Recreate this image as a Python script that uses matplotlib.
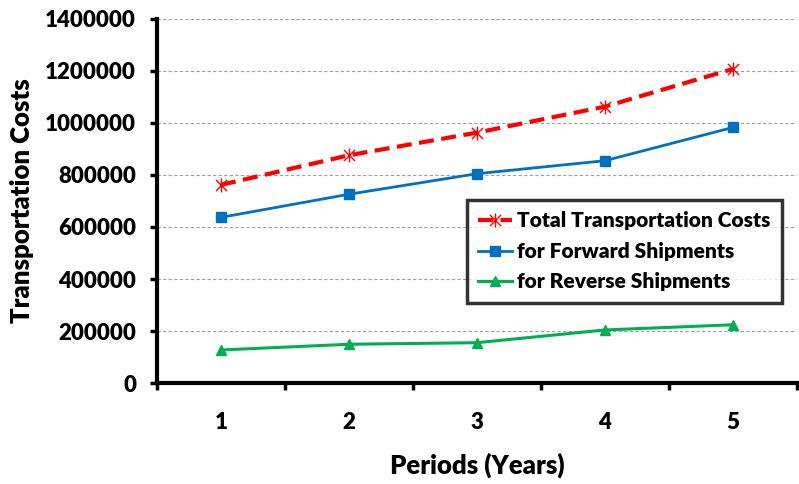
import matplotlib
matplotlib.use("Agg")
import matplotlib.pyplot as plt
from matplotlib.ticker import FixedLocator
from matplotlib.path import Path

periods = [1, 2, 3, 4, 5]
period_labels = ["1", "2", "3", "4", "5"]
total_costs = [762000, 876000, 963000, 1063000, 1208000]
forward_costs = [637000, 726000, 805000, 855000, 983000]
reverse_costs = [127000, 149000, 155000, 204000, 224000]
y_ticks = [0, 200000, 400000, 600000, 800000, 1000000, 1200000, 1400000]

plt.rcParams['font.family'] = ['Lato', 'DejaVu Sans']
plt.rcParams['font.weight'] = 'heavy'

# Excel-style star marker: X plus vertical stroke
star = Path([(-1, -1), (1, 1), (-1, 1), (1, -1), (0, -1.25), (0, 1.25)],
            [Path.MOVETO, Path.LINETO, Path.MOVETO, Path.LINETO, Path.MOVETO, Path.LINETO])

fig = plt.figure(figsize=(7.99, 4.84), dpi=100)
ax = fig.add_axes([157/799, 1 - 383/484, 640/799, 364/484])

ax.plot(periods, total_costs, color='#FF0000', lw=3.0, ls=(0, (3.6, 1.8)),
        marker=star, ms=10, mew=1.0, mec='#FF0000', mfc='none',
        label='Total Transportation Costs', zorder=4)
ax.plot(periods, forward_costs, color='#0070C0', lw=2.0, marker='s', ms=7.5,
        label='for Forward Shipments', zorder=3)
ax.plot(periods, reverse_costs, color='#00B050', lw=2.2, marker='^', ms=7.5,
        label='for Reverse Shipments', zorder=3)

ax.set_xlim(0.5, 5.5)
ax.set_ylim(0, 1400000)
ax.set_yticks(y_ticks)
ax.set_yticklabels([str(v) for v in y_ticks])
ax.xaxis.set_major_locator(FixedLocator([0.5, 1.5, 2.5, 3.5, 4.5, 5.5]))
ax.set_xticklabels([])
ax.xaxis.set_minor_locator(FixedLocator(periods))
ax.set_xticklabels(period_labels, minor=True)
ax.tick_params(axis='x', which='minor', length=0, pad=21, labelsize=16)
ax.tick_params(axis='x', which='major', length=5, width=2.5, direction='out')
ax.tick_params(axis='y', length=5, width=2.5, direction='out', labelsize=16, pad=10)

ax.grid(axis='y', color='#A0A0A0', ls=(0, (3, 2)), lw=0.8)
ax.set_axisbelow(True)
for s in ['top', 'right']:
    ax.spines[s].set_visible(False)
for s in ['left', 'bottom']:
    ax.spines[s].set_linewidth(3)
    ax.spines[s].set_color('black')

ax.set_xlabel('Periods (Years)', fontsize=18.5, fontweight='heavy', labelpad=14)
ax.set_ylabel('Transportation Costs', fontsize=18.5, fontweight='heavy', labelpad=8)

leg = ax.legend(loc='upper left', bbox_to_anchor=((467-157)/640, (383-200)/364),
                borderaxespad=0, frameon=True, fancybox=False, edgecolor='black',
                handlelength=1.6, handletextpad=0.25, borderpad=0.55, labelspacing=0.55,
                prop={'weight': 'heavy', 'size': 15})
leg.get_frame().set_linewidth(2.5)

fig.savefig('out.png', dpi=100)
